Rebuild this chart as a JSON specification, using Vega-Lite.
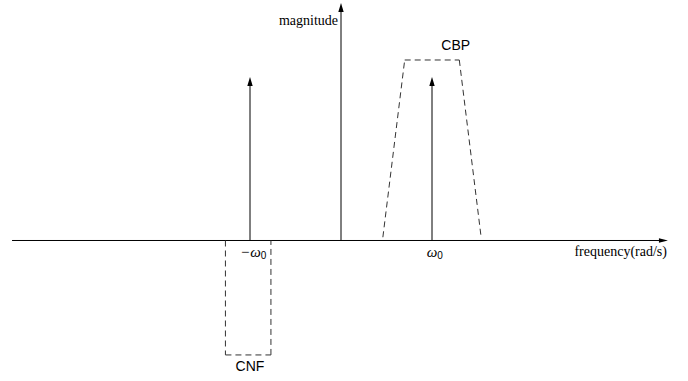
{
  "$schema": "https://vega.github.io/schema/vega-lite/v6.json",
  "width": 688,
  "height": 381,
  "autosize": {"type": "fit", "contains": "padding"},
  "padding": 0,
  "background": "white",
  "config": {"view": {"stroke": null}},
  "datasets": {
    "segments": [
      {"kind": "solid", "x": -3.615, "y": 0, "x2": 3.56, "y2": 0},
      {"kind": "solid", "x": 0, "y": 0, "x2": 0, "y2": 1.42},
      {"kind": "solid", "x": -1, "y": 0, "x2": -1, "y2": 0.96},
      {"kind": "solid", "x": 1, "y": 0, "x2": 1, "y2": 0.96},
      {"kind": "dashed", "x": 0.46, "y": 0.02, "x2": 0.70, "y2": 1.104},
      {"kind": "dashed", "x": 0.70, "y": 1.104, "x2": 1.30, "y2": 1.104},
      {"kind": "dashed", "x": 1.30, "y": 1.104, "x2": 1.54, "y2": 0.02},
      {"kind": "dashed", "x": -1.27, "y": 0, "x2": -1.27, "y2": -0.70},
      {"kind": "dashed", "x": -1.27, "y": -0.70, "x2": -0.77, "y2": -0.70},
      {"kind": "dashed", "x": -0.77, "y": -0.70, "x2": -0.77, "y2": 0}
    ],
    "arrows": [
      {"dir": "right", "x": 3.593, "y": 0},
      {"dir": "up", "x": 0, "y": 1.453},
      {"dir": "up", "x": -1, "y": 1.0},
      {"dir": "up", "x": 1, "y": 1.0}
    ],
    "labels": [
      {"kind": "serif", "text": "magnitude", "x": -0.033, "y": 1.315},
      {"kind": "serif", "text": "frequency(rad/s)", "x": 3.582, "y": -0.095},
      {"kind": "sans", "text": "CBP", "x": 1.26, "y": 1.165},
      {"kind": "sans", "text": "CNF", "x": -1.0, "y": -0.796},
      {"kind": "omega", "text": "−ω", "x": -0.882, "y": -0.099},
      {"kind": "omega", "text": "ω", "x": 1.059, "y": -0.099},
      {"kind": "sub", "text": "0", "x": -0.882, "y": -0.115},
      {"kind": "sub", "text": "0", "x": 1.059, "y": -0.115}
    ]
  },
  "resolve": {"scale": {"x": "shared", "y": "shared"}},
  "layer": [
    {
      "data": {"name": "segments"},
      "transform": [{"filter": "datum.kind === 'solid'"}],
      "mark": {"type": "rule", "color": "#000000", "strokeWidth": 1},
      "encoding": {
        "x": {"field": "x", "type": "quantitative", "scale": {"domain": [-3.7473, 3.8132], "nice": false, "zero": false}, "axis": null},
        "y": {"field": "y", "type": "quantitative", "scale": {"domain": [-0.85933, 1.47095], "nice": false, "zero": false}, "axis": null},
        "x2": {"field": "x2"},
        "y2": {"field": "y2"}
      }
    },
    {
      "data": {"name": "segments"},
      "transform": [{"filter": "datum.kind === 'dashed'"}],
      "mark": {"type": "rule", "color": "#333333", "strokeWidth": 1, "strokeDash": [6, 4]},
      "encoding": {
        "x": {"field": "x", "type": "quantitative"},
        "y": {"field": "y", "type": "quantitative"},
        "x2": {"field": "x2"},
        "y2": {"field": "y2"}
      }
    },
    {
      "data": {"name": "arrows"},
      "mark": {"type": "point", "filled": true, "color": "#000000", "opacity": 1, "size": 324, "strokeWidth": 0},
      "encoding": {
        "x": {"field": "x", "type": "quantitative"},
        "y": {"field": "y", "type": "quantitative"},
        "shape": {
          "field": "dir",
          "type": "nominal",
          "scale": {"domain": ["up", "right"], "range": ["M0,0L-0.3,1L0.3,1Z", "M0,0L-1,-0.25L-1,0.25Z"]},
          "legend": null
        }
      }
    },
    {
      "data": {"name": "labels"},
      "transform": [{"filter": "datum.kind === 'serif'"}],
      "mark": {"type": "text", "font": "Liberation Serif", "fontSize": 14, "baseline": "alphabetic", "align": "right", "color": "#000000"},
      "encoding": {
        "x": {"field": "x", "type": "quantitative"},
        "y": {"field": "y", "type": "quantitative"},
        "text": {"field": "text"}
      }
    },
    {
      "data": {"name": "labels"},
      "transform": [{"filter": "datum.kind === 'sans'"}],
      "mark": {"type": "text", "font": "Liberation Sans", "fontSize": 14, "baseline": "alphabetic", "align": "center", "color": "#000000"},
      "encoding": {
        "x": {"field": "x", "type": "quantitative"},
        "y": {"field": "y", "type": "quantitative"},
        "text": {"field": "text"}
      }
    },
    {
      "data": {"name": "labels"},
      "transform": [{"filter": "datum.kind === 'omega'"}],
      "mark": {"type": "text", "font": "Liberation Serif", "fontStyle": "italic", "fontSize": 15, "baseline": "alphabetic", "align": "right", "color": "#000000"},
      "encoding": {
        "x": {"field": "x", "type": "quantitative"},
        "y": {"field": "y", "type": "quantitative"},
        "text": {"field": "text"}
      }
    },
    {
      "data": {"name": "labels"},
      "transform": [{"filter": "datum.kind === 'sub'"}],
      "mark": {"type": "text", "font": "Liberation Sans", "fontSize": 10, "baseline": "alphabetic", "align": "left", "color": "#000000"},
      "encoding": {
        "x": {"field": "x", "type": "quantitative"},
        "y": {"field": "y", "type": "quantitative"},
        "text": {"field": "text"}
      }
    }
  ]
}
